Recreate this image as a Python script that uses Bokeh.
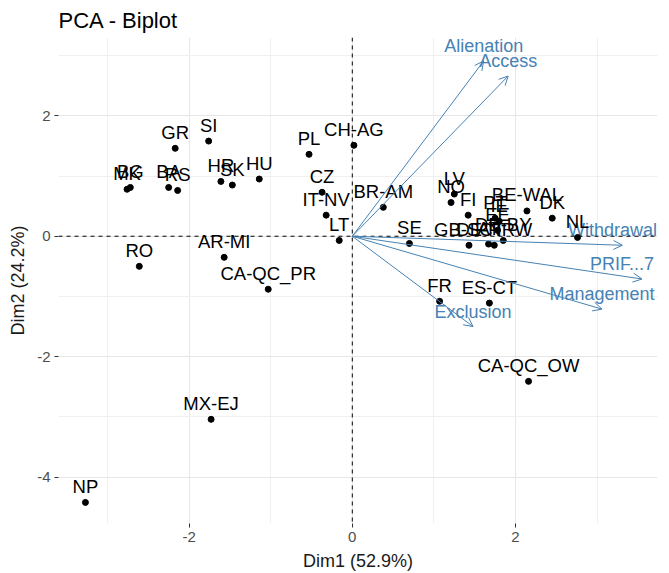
from bokeh.plotting import figure
from bokeh.models import Arrow, OpenHead, ColumnDataSource, Span, FixedTicker, Range1d
from bokeh.core.properties import value
from bokeh.embed import file_html
from bokeh.resources import INLINE

# Individuals (countries / regions)
ind_names = ["NP", "MX-EJ", "CA-QC_PR", "AR-MI", "RO", "GR", "SI", "MK", "BG", "BA", "RS",
             "HR", "SK", "HU", "PL", "CH-AG", "CZ", "IT-NV", "LT", "BR-AM", "NO", "LV", "FI",
             "PT", "IE", "EE", "DE-BY", "GB-SCT", "AT", "DE-NRW", "BE-WAL", "DK", "NL", "SE",
             "FR", "ES-CT", "CA-QC_OW"]
ind_dim1 = [-3.27, -1.73, -1.03, -1.57, -2.61, -2.17, -1.76, -2.76, -2.72, -2.25, -2.14,
            -1.61, -1.47, -1.14, -0.53, 0.02, -0.37, -0.32, -0.16, 0.38, 1.21, 1.25, 1.42,
            1.75, 1.80, 1.78, 1.85, 1.43, 1.67, 1.74, 2.14, 2.45, 2.76, 0.70,
            1.07, 1.68, 2.16]
ind_dim2 = [-4.42, -3.04, -0.88, -0.35, -0.50, 1.46, 1.58, 0.78, 0.81, 0.81, 0.76,
            0.91, 0.85, 0.95, 1.36, 1.51, 0.73, 0.35, -0.07, 0.48, 0.56, 0.70, 0.35,
            0.30, 0.25, 0.10, -0.07, -0.15, -0.13, -0.15, 0.42, 0.30, -0.02, -0.12,
            -1.08, -1.11, -2.41]

# Variables
var_names = ["Alienation", "Access", "Withdrawal", "PRIF...7", "Management", "Exclusion"]
var_dim1 = [1.61, 1.91, 3.31, 3.55, 3.06, 1.48]
var_dim2 = [2.91, 2.66, -0.15, -0.71, -1.21, -1.50]
# small horizontal nudges (px) so that labels near the right edge stay inside the panel
var_label_nudge = [0, 0, -10, -20, 0, 0]

x_ticks = [-2, 0, 2]
y_ticks = [-4, -2, 0, 2]

FONT = "Liberation Sans"
VAR_COL = "#4682B4"

p = figure(frame_width=599, frame_height=486,
           x_range=Range1d(-3.6, 3.74), y_range=Range1d(-4.77, 3.3),
           output_backend="svg", toolbar_location=None, title="PCA - Biplot",
           min_border_left=58, min_border_right=2, min_border_top=33, min_border_bottom=40)
p.outline_line_color = None
p.background_fill_color = "white"

p.title.text_font = FONT
p.title.text_font_size = "22px"
p.title.text_font_style = "normal"
p.title.text_color = "black"
p.title.align = "left"

p.xaxis.axis_label = "Dim1 (52.9%)"
p.yaxis.axis_label = "Dim2 (24.2%)"
p.xaxis.ticker = FixedTicker(ticks=x_ticks, minor_ticks=[-3, -1, 1, 3])
p.yaxis.ticker = FixedTicker(ticks=y_ticks, minor_ticks=[-3, -1, 1, 3])
p.xaxis.major_label_overrides = {t: str(t) for t in x_ticks}
p.yaxis.major_label_overrides = {t: str(t) for t in y_ticks}
for ax in (p.xaxis, p.yaxis):
    ax.axis_line_color = None
    ax.major_tick_line_color = "#333333"
    ax.major_tick_out = 4
    ax.major_tick_in = 0
    ax.minor_tick_line_color = None
    ax.major_label_text_font = FONT
    ax.major_label_text_font_size = "15px"
    ax.major_label_text_color = "#4D4D4D"
    ax.axis_label_text_font = FONT
    ax.axis_label_text_font_size = "18px"
    ax.axis_label_text_font_style = "normal"
    ax.axis_label_text_color = "#1a1a1a"
    ax.axis_label_standoff = 6
    ax.major_label_standoff = 4

p.grid.grid_line_color = "#E6E6E6"
p.grid.grid_line_width = 1
p.grid.minor_grid_line_color = "#F0F0F0"
p.grid.minor_grid_line_width = 1

p.add_layout(Span(location=0, dimension="height", line_color="black", line_dash="4 4", line_width=1))
p.add_layout(Span(location=0, dimension="width", line_color="black", line_dash="4 4", line_width=1))

# variable arrows
vsrc = ColumnDataSource(dict(x0=[0] * len(var_names), y0=[0] * len(var_names),
                             x1=var_dim1, y1=var_dim2, name=var_names, dx=var_label_nudge))
p.add_layout(Arrow(end=OpenHead(size=9, line_color=VAR_COL, line_width=1),
                   x_start="x0", y_start="y0", x_end="x1", y_end="y1", source=vsrc,
                   line_color=VAR_COL, line_width=1))
p.text(x="x1", y="y1", text="name", source=vsrc, text_color=VAR_COL,
       text_font=value(FONT), text_font_size="18px", text_align="center",
       text_baseline="middle", x_offset="dx", y_offset=-15)

# individuals
isrc = ColumnDataSource(dict(x=ind_dim1, y=ind_dim2, name=ind_names))
p.scatter(x="x", y="y", source=isrc, size=6, color="black")
p.text(x="x", y="y", text="name", source=isrc, text_color="black",
       text_font=value(FONT), text_font_size="18.5px", text_align="center",
       text_baseline="middle", y_offset=-16)

open("out.html", "w").write(file_html(p, INLINE))
